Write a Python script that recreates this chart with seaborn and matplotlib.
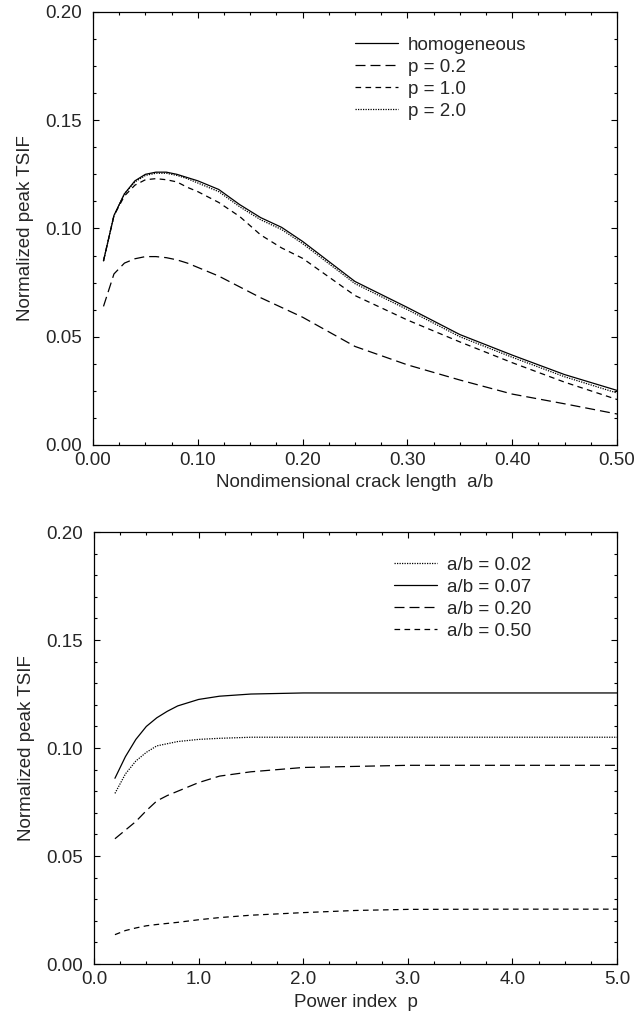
import numpy as np
import pandas as pd
import matplotlib
matplotlib.use("Agg")
import matplotlib.pyplot as plt
import seaborn as sns
from matplotlib.ticker import MultipleLocator, FormatStrFormatter

# ---------------- data: top panel (vs crack length) ----------------
ab = [0.01, 0.02, 0.03, 0.04, 0.05, 0.06, 0.07, 0.08, 0.09, 0.10, 0.12, 0.14,
      0.16, 0.18, 0.20, 0.25, 0.30, 0.35, 0.40, 0.45, 0.50]
homogeneous = [0.085, 0.106, 0.116, 0.122, 0.125, 0.126, 0.126, 0.125, 0.1235, 0.122,
               0.118, 0.111, 0.105, 0.1005, 0.094, 0.0755, 0.0635, 0.051, 0.0415, 0.0325, 0.0252]
p02 = [0.064, 0.079, 0.084, 0.086, 0.087, 0.087, 0.0865, 0.0855, 0.084, 0.082,
       0.078, 0.073, 0.068, 0.0635, 0.059, 0.0455, 0.037, 0.030, 0.0235, 0.019, 0.0143]
p10 = [0.085, 0.106, 0.115, 0.120, 0.1225, 0.123, 0.1225, 0.1215, 0.119, 0.117,
       0.112, 0.1055, 0.097, 0.091, 0.0862, 0.069, 0.0577, 0.0476, 0.038, 0.029, 0.021]
p20 = [0.085, 0.106, 0.116, 0.1215, 0.1245, 0.1255, 0.1255, 0.1245, 0.123, 0.121,
       0.117, 0.110, 0.104, 0.0995, 0.093, 0.0745, 0.0625, 0.050, 0.0405, 0.0315, 0.024]
top_labels = ["homogeneous", "p = 0.2", "p = 1.0", "p = 2.0"]

# ---------------- data: bottom panel (vs power index) ----------------
p_idx = [0.2, 0.3, 0.4, 0.5, 0.6, 0.7, 0.8, 1.0, 1.2, 1.5, 2.0, 2.5, 3.0, 4.0, 5.0]
ab002 = [0.079, 0.088, 0.094, 0.098, 0.101, 0.102, 0.103, 0.104, 0.1045, 0.105,
         0.105, 0.105, 0.105, 0.105, 0.105]
ab007 = [0.086, 0.096, 0.104, 0.110, 0.114, 0.117, 0.1195, 0.1225, 0.124, 0.125,
         0.1255, 0.1255, 0.1255, 0.1255, 0.1255]
ab020 = [0.058, 0.062, 0.066, 0.071, 0.0755, 0.078, 0.080, 0.084, 0.087, 0.089,
         0.091, 0.0915, 0.092, 0.092, 0.092]
ab050 = [0.0136, 0.0155, 0.0167, 0.0177, 0.0183, 0.0188, 0.0193, 0.0205, 0.0215, 0.0226,
         0.0238, 0.0248, 0.0253, 0.0254, 0.0254]
bot_labels = ["a/b = 0.02", "a/b = 0.07", "a/b = 0.20", "a/b = 0.50"]

sns.set_style("ticks")
plt.rcParams["font.family"] = ["Liberation Sans", "DejaVu Sans"]
FS = 13.5

LW = 0.9
solid = "-"
longdash = (0, (8, 4))
shortdash = (0, (4.5, 3.5))
dotted = (0, (1, 1))

fig = plt.figure(figsize=(6.34, 10.21), dpi=100)
ax1 = fig.add_axes([0.1467, 0.5642, 0.8265, 0.4241])
ax2 = fig.add_axes([0.1483, 0.0558, 0.8249, 0.4231])

top_df = pd.DataFrame({"x": ab * 4,
                       "y": homogeneous + p02 + p10 + p20,
                       "series": sum([[l] * len(ab) for l in top_labels], [])})
top_styles = [solid, longdash, shortdash, dotted]
for lab, ls in zip(top_labels, top_styles):
    d = top_df[top_df["series"] == lab]
    sns.lineplot(data=d, x="x", y="y", ax=ax1, color="black", lw=LW,
                 linestyle=ls, label=lab, sort=False)

bot_df = pd.DataFrame({"x": p_idx * 4,
                       "y": ab002 + ab007 + ab020 + ab050,
                       "series": sum([[l] * len(p_idx) for l in bot_labels], [])})
bot_styles = [dotted, solid, longdash, shortdash]
for lab, ls in zip(bot_labels, bot_styles):
    d = bot_df[bot_df["series"] == lab]
    sns.lineplot(data=d, x="x", y="y", ax=ax2, color="black", lw=LW,
                 linestyle=ls, label=lab, sort=False)

def style_axes(ax, xmax, xmaj, xmin, ymin_step, xfmt, xlabel):
    ax.set_xlim(0, xmax)
    ax.set_ylim(0, 0.20)
    ax.xaxis.set_major_locator(MultipleLocator(xmaj))
    ax.xaxis.set_minor_locator(MultipleLocator(xmin))
    ax.yaxis.set_major_locator(MultipleLocator(0.05))
    ax.yaxis.set_minor_locator(MultipleLocator(ymin_step))
    ax.xaxis.set_major_formatter(FormatStrFormatter(xfmt))
    ax.yaxis.set_major_formatter(FormatStrFormatter("%.2f"))
    ax.tick_params(which="both", direction="in", top=True, right=True,
                   labelsize=FS, color="black", width=0.8)
    ax.tick_params(which="major", length=4.5)
    ax.tick_params(which="minor", length=2.5)
    ax.tick_params(axis="x", which="major", pad=5)
    ax.tick_params(axis="y", which="major", pad=8)
    for s in ax.spines.values():
        s.set_visible(True)
        s.set_linewidth(0.9)
        s.set_color("black")
    ax.set_xlabel(xlabel, fontsize=FS, labelpad=4)
    ax.set_ylabel("Normalized peak TSIF", fontsize=FS, labelpad=8)

style_axes(ax1, 0.5, 0.1, 0.025, 0.0125, "%.2f", "Nondimensional crack length  a/b")
style_axes(ax2, 5.0, 1.0, 0.25, 0.01, "%.1f", "Power index  p")

leg_kw = dict(loc="upper left", frameon=False, fontsize=FS, handlelength=2.3,
              handletextpad=0.55, labelspacing=0.26, borderaxespad=0)
ax1.legend(bbox_to_anchor=(0.485, 0.96), **leg_kw)
ax2.legend(bbox_to_anchor=(0.559, 0.96), **leg_kw)

fig.savefig("out.png", dpi=100)
